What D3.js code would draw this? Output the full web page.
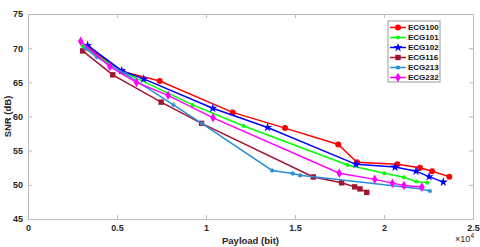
<!DOCTYPE html>
<html>
<head>
<meta charset="utf-8">
<script src="https://cdn.jsdelivr.net/npm/d3@7"></script>
<style>
  body { margin: 0; background: #fff; }
  text { font-family: "Liberation Sans", Arial, sans-serif; font-weight: bold; }
</style>
</head>
<body>
<div id="chart"></div>
<script>
var svgWidth = 480;
var svgHeight = 247;

var margin = { top: 14, right: 7, bottom: 28, left: 28 };
var width = svgWidth - margin.left - margin.right;
var height = svgHeight - margin.top - margin.bottom;

// series names and values (payload bit, SNR dB)
var seriesNames = ["ECG100", "ECG101", "ECG102", "ECG116", "ECG213", "ECG232"];
var seriesColors = ["#ff0000", "#00ff00", "#0000ff", "#a2142f", "#2b8fd6", "#ff00ff"];
var seriesMarkers = ["circle", "dot", "star", "square", "asterisk", "diamond"];

var ecg100 = [[3400, 70.0], [5300, 66.6], [7400, 65.2], [11500, 60.6], [14440, 58.3], [17430, 55.9],
  [18480, 53.3], [20750, 53.0], [22020, 52.5], [22700, 52.0], [23670, 51.2]];
var ecg101 = [[3070, 70.3], [5200, 66.7], [9250, 61.7], [12120, 58.6], [17950, 52.9],
  [20020, 51.7], [21120, 51.1], [21800, 50.5], [22430, 50.3]];
var ecg102 = [[3350, 70.4], [5260, 66.7], [6500, 65.5], [10380, 61.2], [13460, 58.4], [18430, 53.0],
  [20620, 52.6], [21800, 52.0], [22530, 51.2], [23330, 50.4]];
var ecg116 = [[3070, 69.6], [4760, 66.1], [7480, 62.1], [9750, 59.0], [16030, 51.15],
  [17620, 50.3], [18350, 49.7], [18650, 49.4], [19030, 48.9]];
var ecg213 = [[3200, 70.0], [3860, 68.7], [5500, 66.2], [8170, 61.7], [9760, 59.0], [13710, 52.1],
  [14870, 51.66], [15280, 51.4], [22130, 49.4], [22580, 49.1]];
var ecg232 = [[2960, 71.0], [4600, 67.3], [6090, 65.0], [7870, 63.1], [10400, 59.8], [17490, 51.7],
  [19480, 50.8], [20470, 50.25], [21120, 49.9], [22130, 49.7]];

var xTicks = [0, 5000, 10000, 15000, 20000, 25000];
var xTickLabels = ["0", "0.5", "1", "1.5", "2", "2.5"];
var yTicks = [45, 50, 55, 60, 65, 70, 75];

var allSeries = [ecg100, ecg101, ecg102, ecg116, ecg213, ecg232];

var svg = d3.select("#chart").append("svg")
  .attr("width", svgWidth)
  .attr("height", svgHeight);

var chartGroup = svg.append("g")
  .attr("transform", `translate(${margin.left}, ${margin.top})`);

var xScale = d3.scaleLinear().domain([0, 25000]).range([0, width]);
var yScale = d3.scaleLinear().domain([45, 75]).range([height, 0]);

var axisColor = "#262626";

// axes
var bottomAxis = d3.axisBottom(xScale).tickValues(xTicks)
  .tickFormat((d, i) => xTickLabels[i]).tickSizeInner(-4).tickSizeOuter(0).tickPadding(6);
var leftAxis = d3.axisLeft(yScale).tickValues(yTicks).tickSizeInner(-4).tickSizeOuter(0).tickPadding(5);
var topAxis = d3.axisTop(xScale).tickValues(xTicks).tickFormat("").tickSizeInner(-4).tickSizeOuter(0);
var rightAxis = d3.axisRight(yScale).tickValues(yTicks).tickFormat("").tickSizeInner(-4).tickSizeOuter(0);

function styleAxis(g) {
  g.selectAll("path").attr("stroke", "#bbb").attr("stroke-width", 1);
  g.selectAll("line").attr("stroke", "#bbb");
  g.selectAll("text").attr("fill", axisColor).attr("font-size", "9px");
}

chartGroup.append("g").attr("transform", `translate(0, ${height})`).call(bottomAxis).call(styleAxis);
chartGroup.append("g").call(leftAxis).call(styleAxis);
chartGroup.append("g").call(topAxis).call(styleAxis);
chartGroup.append("g").attr("transform", `translate(${width}, 0)`).call(rightAxis).call(styleAxis);

// marker drawing
function drawMarker(g, type, color, x, y) {
  if (type === "circle") {
    g.append("circle").attr("cx", x).attr("cy", y).attr("r", 3).attr("fill", color);
  } else if (type === "dot") {
    g.append("circle").attr("cx", x).attr("cy", y).attr("r", 2).attr("fill", color);
  } else if (type === "star") {
    g.append("path").attr("d", d3.symbol(d3.symbolStar, 26)())
      .attr("transform", `translate(${x},${y})`).attr("fill", color);
  } else if (type === "square") {
    g.append("rect").attr("x", x - 2.7).attr("y", y - 2.7).attr("width", 5.4).attr("height", 5.4)
      .attr("fill", color);
  } else if (type === "asterisk") {
    g.append("path").attr("d", d3.symbol(d3.symbolAsterisk, 14)())
      .attr("transform", `translate(${x},${y})`).attr("fill", "none")
      .attr("stroke", color).attr("stroke-width", 1.2);
  } else if (type === "diamond") {
    g.append("path").attr("d", d3.symbol(d3.symbolDiamond, 26)())
      .attr("transform", `translate(${x},${y})`).attr("fill", color);
  }
}

var line = d3.line().x(d => xScale(d[0])).y(d => yScale(d[1]));

allSeries.forEach(function(data, i) {
  var g = chartGroup.append("g");
  g.append("path")
    .datum(data)
    .attr("d", line)
    .attr("fill", "none")
    .attr("stroke", seriesColors[i])
    .attr("stroke-width", 1.5);
  data.forEach(function(d) {
    drawMarker(g, seriesMarkers[i], seriesColors[i], xScale(d[0]), yScale(d[1]));
  });
});

// legend
var legend = svg.append("g").attr("transform", "translate(388, 21)");
legend.append("rect")
  .attr("width", 52).attr("height", 61)
  .attr("fill", "#fff").attr("stroke", "#999").attr("stroke-width", 1);

seriesNames.forEach(function(name, i) {
  var y = 6.5 + i * 10;
  legend.append("line").attr("x1", 2).attr("x2", 18).attr("y1", y).attr("y2", y)
    .attr("stroke", seriesColors[i]).attr("stroke-width", 1.5);
  var mg = legend.append("g");
  drawMarker(mg, seriesMarkers[i], seriesColors[i], 10, y);
  legend.append("text").attr("x", 20).attr("y", y).attr("dy", "0.35em")
    .attr("font-size", "8px").attr("fill", "#111").text(name);
});

// axis labels
svg.append("text")
  .attr("x", margin.left + width / 2).attr("y", 244)
  .attr("text-anchor", "middle").attr("font-size", "9.5px").attr("fill", axisColor)
  .text("Payload (bit)");

svg.append("text")
  .attr("transform", `translate(11, ${margin.top + height / 2}) rotate(-90)`)
  .attr("text-anchor", "middle").attr("font-size", "9.5px").attr("fill", axisColor)
  .text("SNR (dB)");

var expo = svg.append("text")
  .attr("x", 455).attr("y", 242).attr("font-size", "9px").attr("fill", axisColor);
expo.append("tspan").attr("font-weight", "normal").text("\u00d710");
expo.append("tspan").attr("dy", -4).attr("font-size", "7px").attr("font-weight", "normal").text("4");
</script>
</body>
</html>
